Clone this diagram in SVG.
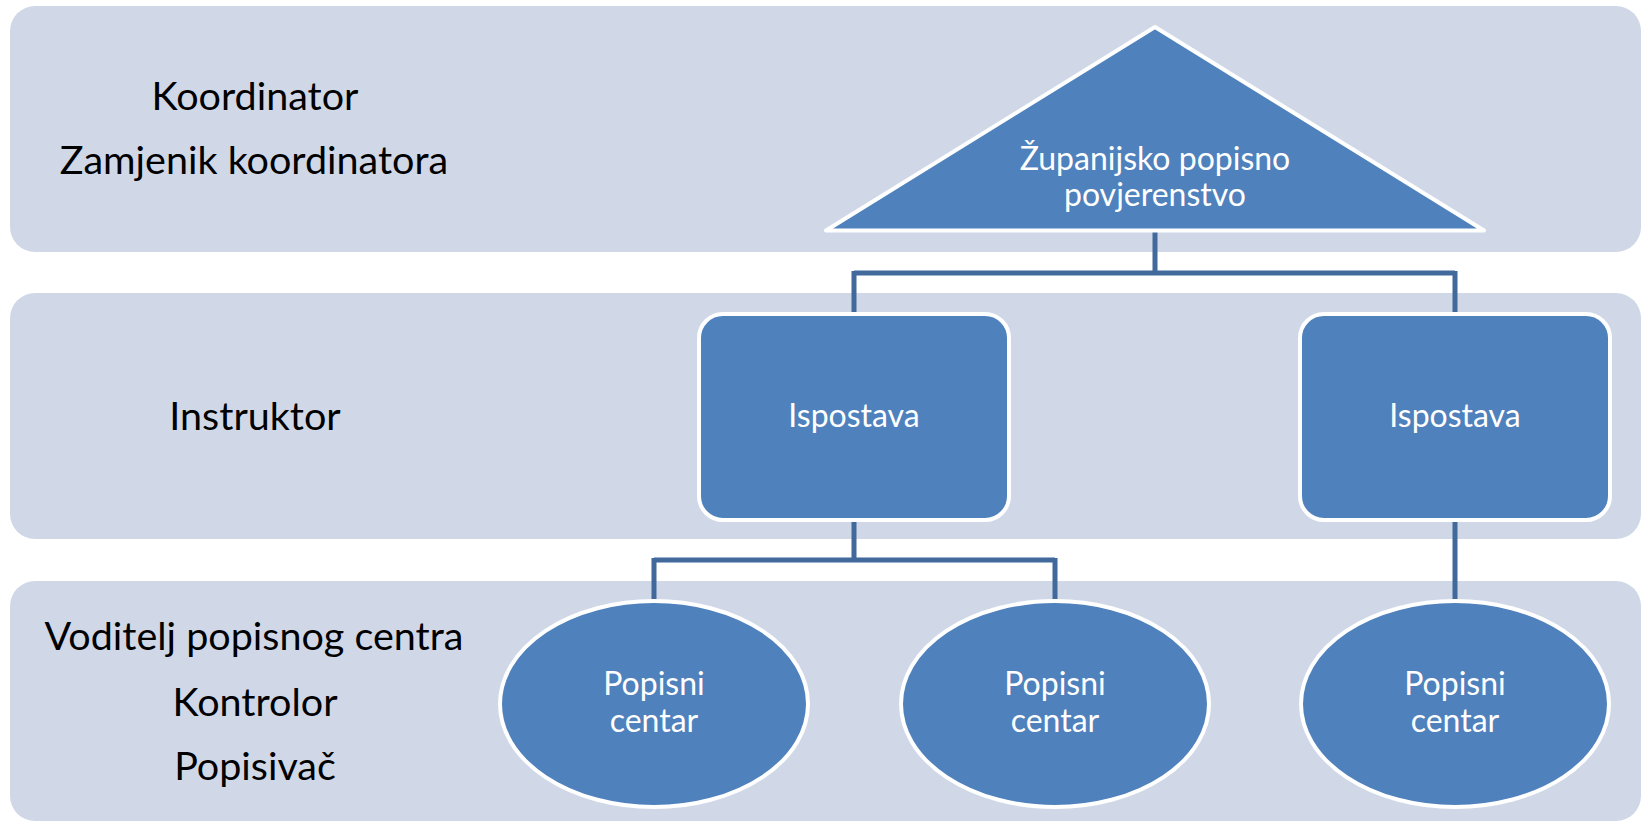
<svg xmlns="http://www.w3.org/2000/svg" width="1642" height="824" viewBox="0 0 1642 824">
<style>
.band{fill:#D0D8E8}
.node{fill:#4F81BD;stroke:#FFFFFF;stroke-width:4}
.lbl{font-family:Lato,"Open Sans","Liberation Sans",sans-serif;font-size:39.5px;fill:#000000;text-anchor:middle}
.ntx{font-family:Lato,"Open Sans","Liberation Sans",sans-serif;font-size:32px;fill:#FFFFFF;text-anchor:middle}
.conn{fill:none;stroke:#41699B;stroke-width:5}
</style>
<rect width="1642" height="824" fill="#FFFFFF"/>
<g id="bands">
<rect class="band" x="10" y="6" width="1631" height="246" rx="25"/>
<rect class="band" x="10" y="293" width="1631" height="246" rx="25"/>
<rect class="band" x="10" y="581" width="1631" height="240" rx="25"/>
</g>
<g id="labels">
<text class="lbl" x="255" y="110">Koordinator</text>
<text class="lbl" x="254" y="174">Zamjenik koordinatora</text>
<text class="lbl" x="255" y="430">Instruktor</text>
<text class="lbl" x="254" y="650">Voditelj popisnog centra</text>
<text class="lbl" x="255" y="716">Kontrolor</text>
<text class="lbl" x="255" y="780">Popisivač</text>
</g>
<g id="connectors">
<path class="conn" d="M1155 232 V273 M854 273 H1455 M854 271 V312 M1455 271 V312"/>
<path class="conn" d="M854 521 V560 M654 560 H1055 M654 558 V600 M1055 558 V600"/>
<path class="conn" d="M1455 521 V600"/>
</g>
<g id="node-zupanijsko">
<polygon class="node" points="1155,27 826,230.5 1484,230.5" stroke-linejoin="round"/>
<text class="ntx" x="1155" y="170">Županijsko popisno</text>
<text class="ntx" x="1155" y="206">povjerenstvo</text>
</g>
<g id="node-ispostava-1">
<rect class="node" x="699" y="314" width="310" height="206" rx="24"/>
<text class="ntx" x="854" y="427">Ispostava</text>
</g>
<g id="node-ispostava-2">
<rect class="node" x="1300" y="314" width="310" height="206" rx="24"/>
<text class="ntx" x="1455" y="427">Ispostava</text>
</g>
<g id="node-centar-1">
<ellipse class="node" cx="654" cy="704" rx="154" ry="103"/>
<text class="ntx" x="654" y="695">Popisni</text>
<text class="ntx" x="654" y="732">centar</text>
</g>
<g id="node-centar-2">
<ellipse class="node" cx="1055" cy="704" rx="154" ry="103"/>
<text class="ntx" x="1055" y="695">Popisni</text>
<text class="ntx" x="1055" y="732">centar</text>
</g>
<g id="node-centar-3">
<ellipse class="node" cx="1455" cy="704" rx="154" ry="103"/>
<text class="ntx" x="1455" y="695">Popisni</text>
<text class="ntx" x="1455" y="732">centar</text>
</g>
</svg>
